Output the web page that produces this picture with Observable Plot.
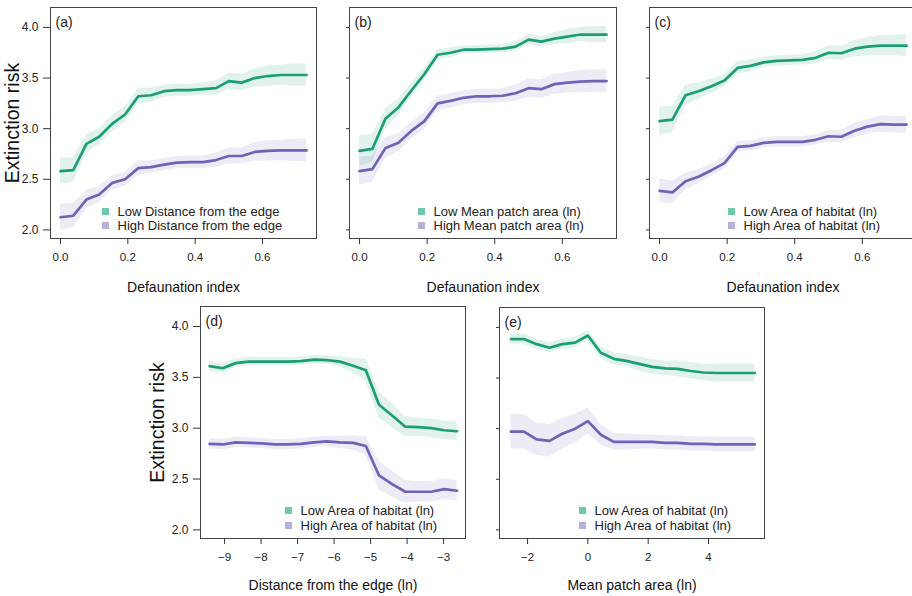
<!DOCTYPE html>
<html>
<head>
<meta charset="utf-8">
<script src="https://cdn.jsdelivr.net/npm/d3@7"></script>
<script src="https://cdn.jsdelivr.net/npm/@observablehq/plot@0.6"></script>
<style>
  html, body { margin: 0; padding: 0; background: #fff; overflow: hidden; }
  #wrap { position: relative; width: 912px; height: 596px; overflow: hidden; font-family: "Liberation Sans", Arial, sans-serif; }
  .cell { position: absolute; }
  .cell svg { max-width: none !important; }
</style>
</head>
<body>
<div id="wrap"></div>
<script>
// ---------- data ----------
const defaunation = [0, 0.038, 0.077, 0.115, 0.154, 0.192, 0.231, 0.269, 0.308, 0.346, 0.385, 0.423, 0.462, 0.5, 0.538, 0.577, 0.615, 0.654, 0.692, 0.731];

// (a) distance from the edge
const aLow      = [2.58, 2.59, 2.85, 2.92, 3.05, 3.14, 3.32, 3.33, 3.37, 3.38, 3.38, 3.39, 3.40, 3.47, 3.455, 3.50, 3.52, 3.53, 3.53, 3.53];
const aLowSe    = [0.13, 0.12, 0.09, 0.08, 0.08, 0.08, 0.08, 0.07, 0.06, 0.06, 0.06, 0.06, 0.07, 0.08, 0.08, 0.09, 0.10, 0.10, 0.11, 0.11];
const aHigh     = [2.125, 2.14, 2.30, 2.35, 2.465, 2.50, 2.61, 2.62, 2.645, 2.665, 2.67, 2.67, 2.69, 2.73, 2.73, 2.77, 2.78, 2.785, 2.785, 2.785];
const aHighSe   = [0.13, 0.12, 0.09, 0.08, 0.07, 0.07, 0.07, 0.06, 0.06, 0.06, 0.06, 0.06, 0.07, 0.08, 0.08, 0.09, 0.10, 0.10, 0.11, 0.11];

// (b) mean patch area
const bLow      = [2.78, 2.80, 3.10, 3.21, 3.38, 3.54, 3.73, 3.75, 3.78, 3.78, 3.785, 3.79, 3.81, 3.88, 3.86, 3.89, 3.91, 3.93, 3.93, 3.93];
const bLowSe    = [0.15, 0.14, 0.10, 0.08, 0.07, 0.06, 0.05, 0.05, 0.04, 0.04, 0.04, 0.04, 0.05, 0.05, 0.05, 0.06, 0.07, 0.07, 0.08, 0.08];
const bHigh     = [2.58, 2.60, 2.81, 2.86, 2.98, 3.075, 3.25, 3.275, 3.305, 3.32, 3.32, 3.325, 3.35, 3.40, 3.39, 3.44, 3.455, 3.465, 3.47, 3.47];
const bHighSe   = [0.14, 0.13, 0.10, 0.09, 0.08, 0.08, 0.07, 0.07, 0.07, 0.07, 0.07, 0.07, 0.08, 0.09, 0.09, 0.10, 0.10, 0.11, 0.11, 0.115];

// (c) area of habitat
const cLow      = [3.075, 3.09, 3.33, 3.37, 3.42, 3.475, 3.60, 3.62, 3.655, 3.67, 3.675, 3.68, 3.70, 3.75, 3.745, 3.79, 3.81, 3.82, 3.82, 3.82];
const cLowSe    = [0.14, 0.13, 0.10, 0.08, 0.07, 0.06, 0.06, 0.06, 0.05, 0.05, 0.05, 0.05, 0.06, 0.07, 0.07, 0.08, 0.09, 0.10, 0.10, 0.11];
const cHigh     = [2.385, 2.37, 2.48, 2.525, 2.59, 2.66, 2.82, 2.83, 2.86, 2.87, 2.87, 2.87, 2.89, 2.925, 2.92, 2.98, 3.02, 3.045, 3.04, 3.04];
const cHighSe   = [0.12, 0.11, 0.08, 0.07, 0.06, 0.06, 0.05, 0.05, 0.05, 0.05, 0.05, 0.05, 0.05, 0.06, 0.06, 0.07, 0.07, 0.08, 0.08, 0.085];

// (d) distance from the edge (ln)
const distEdge  = [-9.41, -9.05, -8.70, -8.34, -7.98, -7.63, -7.27, -6.91, -6.55, -6.20, -5.84, -5.48, -5.13, -4.77, -4.41, -4.05, -3.70, -3.34, -2.98, -2.63];
const dLow      = [3.61, 3.59, 3.64, 3.655, 3.655, 3.655, 3.655, 3.66, 3.675, 3.67, 3.655, 3.615, 3.57, 3.23, 3.125, 3.015, 3.01, 3.00, 2.98, 2.97];
const dLowSe    = [0.05, 0.05, 0.04, 0.04, 0.04, 0.04, 0.04, 0.04, 0.04, 0.04, 0.05, 0.07, 0.11, 0.13, 0.12, 0.10, 0.09, 0.09, 0.09, 0.09];
const dHigh     = [2.845, 2.84, 2.86, 2.855, 2.85, 2.84, 2.84, 2.845, 2.86, 2.87, 2.86, 2.855, 2.825, 2.535, 2.45, 2.375, 2.375, 2.375, 2.40, 2.385];
const dHighSe   = [0.05, 0.05, 0.05, 0.05, 0.05, 0.05, 0.05, 0.05, 0.05, 0.05, 0.06, 0.07, 0.09, 0.14, 0.13, 0.11, 0.10, 0.10, 0.10, 0.10];

// (e) mean patch area (ln)
const patchArea = [-2.55, -2.12, -1.70, -1.27, -0.85, -0.42, 0, 0.43, 0.86, 1.27, 1.70, 2.13, 2.56, 2.98, 3.41, 3.84, 4.25, 4.68, 5.11, 5.54];
const eLow      = [3.885, 3.885, 3.835, 3.80, 3.835, 3.85, 3.92, 3.75, 3.69, 3.67, 3.64, 3.61, 3.595, 3.59, 3.57, 3.555, 3.55, 3.55, 3.55, 3.55];
const eLowSe    = [0.05, 0.05, 0.05, 0.05, 0.05, 0.05, 0.05, 0.06, 0.06, 0.06, 0.07, 0.07, 0.07, 0.08, 0.08, 0.08, 0.09, 0.09, 0.09, 0.09];
const eHigh     = [2.97, 2.97, 2.895, 2.88, 2.95, 3.00, 3.075, 2.94, 2.87, 2.87, 2.87, 2.87, 2.86, 2.86, 2.85, 2.85, 2.845, 2.845, 2.845, 2.845];
const eHighSe   = [0.17, 0.17, 0.16, 0.16, 0.15, 0.14, 0.13, 0.10, 0.08, 0.08, 0.07, 0.07, 0.07, 0.07, 0.07, 0.07, 0.07, 0.07, 0.07, 0.07];

const yTicks = [2.0, 2.5, 3.0, 3.5, 4.0];
const defTicks = [0, 0.2, 0.4, 0.6];
const distTicks = [-9, -8, -7, -6, -5, -4, -3];
const patchTicks = [-2, 0, 2, 4];

// ---------- style ----------
const GREEN = "#1b9e77", PURPLE = "#6e63b6";
const GREEN_KEY = "#6fc7ae", PURPLE_KEY = "#b6b1d9";
const FONT = "'Liberation Sans', Arial, Helvetica, sans-serif";

function rows(x, v, se) {
  return x.map((xi, i) => ({x: xi, y: v[i], lo: v[i] - se[i], hi: v[i] + se[i]}));
}

function panel(o) {
  const low = rows(o.x, o.low, o.lowSe);
  const high = rows(o.x, o.high, o.highSe);
  const marks = [
    Plot.areaY(low, {x: "x", y1: "lo", y2: "hi", fill: GREEN, fillOpacity: 0.13}),
    Plot.areaY(high, {x: "x", y1: "lo", y2: "hi", fill: PURPLE, fillOpacity: 0.13}),
    Plot.lineY(low, {x: "x", y: "y", stroke: GREEN, strokeWidth: 2.7}),
    Plot.lineY(high, {x: "x", y: "y", stroke: PURPLE, strokeWidth: 2.7}),
    Plot.frame({stroke: "#444", strokeWidth: 1}),
    Plot.axisY({ticks: yTicks, tickSize: o.yLabels ? 7 : 3, tickPadding: 5, fontSize: 12,
                tickFormat: o.yLabels ? d3.format(".1f") : () => "", label: null, stroke: "#333", fill: "#222"}),
    Plot.axisX({ticks: o.xTicks, tickSize: 6, tickPadding: 8, fontSize: 11.5,
                tickFormat: o.xFormat, label: null, stroke: "#333", fill: "#222"}),
    Plot.text([o.tag], {text: d => d, frameAnchor: "top-left", dx: 5, dy: 15, fontSize: 14,
                        textAnchor: "start", lineAnchor: "middle", fill: "#222"}),
    Plot.text([o.xTitle], {text: d => d, frameAnchor: "bottom", dy: o.xTitleDy, fontSize: 14,
                           lineAnchor: "middle", fill: "#111"}),
    Plot.dot([o.legLow], {frameAnchor: "bottom-left", dx: o.legDx, dy: o.legDy1, symbol: "square", r: 4,
                          fill: GREEN_KEY, stroke: "none"}),
    Plot.dot([o.legHigh], {frameAnchor: "bottom-left", dx: o.legDx, dy: o.legDy2, symbol: "square", r: 4,
                           fill: PURPLE_KEY, stroke: "none"}),
    Plot.text([o.legLow], {text: d => d, frameAnchor: "bottom-left", dx: o.legDx + 12, dy: o.legDy1,
                           textAnchor: "start", lineAnchor: "middle", fontSize: 13, fill: "#222"}),
    Plot.text([o.legHigh], {text: d => d, frameAnchor: "bottom-left", dx: o.legDx + 12, dy: o.legDy2,
                            textAnchor: "start", lineAnchor: "middle", fontSize: 13, fill: "#222"})
  ];
  if (o.yTitle) {
    marks.push(Plot.text([o.yTitle], {text: d => d, frameAnchor: "left", dx: o.yTitleDx, rotate: -90,
                                      fontSize: 19.5, textAnchor: "middle", lineAnchor: "middle", fill: "#111"}));
  }
  const chart = Plot.plot({
    width: o.width, height: o.height,
    marginLeft: o.ml, marginRight: o.mr, marginTop: o.mt, marginBottom: o.mb,
    x: {domain: o.xDomain},
    y: {domain: [1.915, 4.197]},
    style: {fontFamily: FONT, background: "transparent", overflow: "visible", maxWidth: "none"},
    marks
  });
  const cell = document.createElement("div");
  cell.className = "cell";
  cell.style.left = o.left + "px";
  cell.style.top = o.top + "px";
  cell.style.width = o.width + "px";
  cell.style.height = o.height + "px";
  cell.appendChild(chart);
  document.getElementById("wrap").appendChild(cell);
}

const fmtDef = d3.format(".1f");
const fmtInt = d => d3.format("d")(d).replace("-", "\u2212");
const topCommon = {x: defaunation, xDomain: [-0.0297, 0.7603], xTicks: defTicks, xFormat: fmtDef,
                   xTitle: "Defaunation index", width: 320, height: 300, mt: 7, mb: 62, mr: 4, top: 0,
                   xTitleDy: 49, legDy1: -27, legDy2: -13};

panel({...topCommon, left: 0, ml: 50, low: aLow, lowSe: aLowSe, high: aHigh, highSe: aHighSe,
       tag: "(a)", yLabels: true, yTitle: "Extinction risk", yTitleDx: -38, legDx: 55,
       legLow: "Low Distance from the edge", legHigh: "High Distance from the edge"});
panel({...topCommon, left: 300, ml: 49, low: bLow, lowSe: bLowSe, high: bHigh, highSe: bHighSe,
       tag: "(b)", yLabels: false, legDx: 72,
       legLow: "Low Mean patch area (ln)", legHigh: "High Mean patch area (ln)"});
panel({...topCommon, left: 600, ml: 49, low: cLow, lowSe: cLowSe, high: cHigh, highSe: cHighSe,
       tag: "(c)", yLabels: false, legDx: 82,
       legLow: "Low Area of habitat (ln)", legHigh: "High Area of habitat (ln)"});

panel({x: distEdge, xDomain: [-9.66, -2.4], xTicks: distTicks, xFormat: fmtInt,
       xTitle: "Distance from the edge (ln)", width: 330, height: 306, ml: 60, mr: 5, mt: 16, mb: 58,
       left: 140, top: 290, xTitleDy: 47, legDy1: -28, legDy2: -13, legDx: 88,
       low: dLow, lowSe: dLowSe, high: dHigh, highSe: dHighSe,
       tag: "(d)", yLabels: true, yTitle: "Extinction risk", yTitleDx: -43,
       legLow: "Low Area of habitat (ln)", legHigh: "High Area of habitat (ln)"});
panel({x: patchArea, xDomain: [-2.93, 5.856], xTicks: patchTicks, xFormat: fmtInt,
       xTitle: "Mean patch area (ln)", width: 300, height: 306, ml: 29, mr: 6, mt: 17, mb: 58,
       left: 470, top: 290, xTitleDy: 47, legDy1: -28, legDy2: -13, legDx: 83,
       low: eLow, lowSe: eLowSe, high: eHigh, highSe: eHighSe,
       tag: "(e)", yLabels: false,
       legLow: "Low Area of habitat (ln)", legHigh: "High Area of habitat (ln)"});
</script>
</body>
</html>
